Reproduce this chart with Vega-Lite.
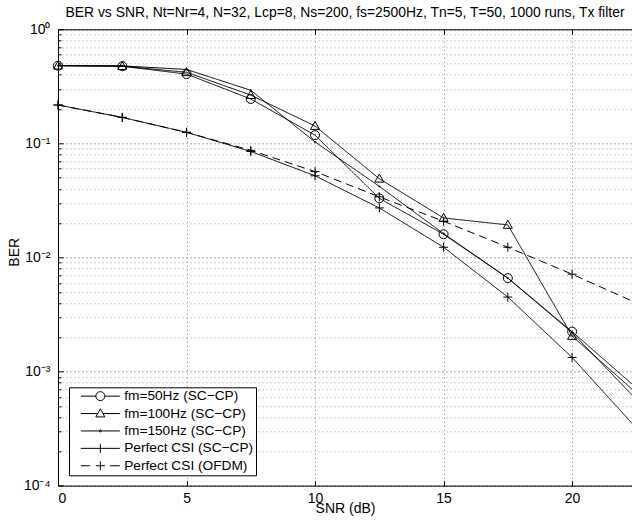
{
  "$schema": "https://vega.github.io/schema/vega-lite/v6.json",
  "width": 574,
  "height": 456.4,
  "autosize": {"type": "none"},
  "padding": {"left": 58, "top": 29.3, "right": 0, "bottom": 36.3},
  "background": "white",
  "title": {"text": "BER vs SNR, Nt=Nr=4, N=32, Lcp=8, Ns=200, fs=2500Hz, Tn=5, T=50, 1000 runs, Tx filter", "fontSize": 13.9, "fontWeight": "normal", "font": "Liberation Sans", "color": "black", "anchor": "middle", "frame": "group", "baseline": "alphabetic", "offset": -8.5},
  "config": {
    "view": {"stroke": null},
    "axis": {"labelFont": "Liberation Sans", "titleFont": "Liberation Sans", "labelColor": "black", "titleColor": "black", "domainColor": "black", "tickColor": "black", "labelFontSize": 14, "titleFontSize": 14, "titleFontWeight": "normal", "domainWidth": 1, "tickWidth": 1, "gridWidth": 1}
  },
  "data": {"values": [
    {"series": "fm=50Hz (SC−CP)", "snr": 0, "ber": 0.48},
    {"series": "fm=50Hz (SC−CP)", "snr": 2.5, "ber": 0.475},
    {"series": "fm=50Hz (SC−CP)", "snr": 5, "ber": 0.405},
    {"series": "fm=50Hz (SC−CP)", "snr": 7.5, "ber": 0.245},
    {"series": "fm=50Hz (SC−CP)", "snr": 10, "ber": 0.118},
    {"series": "fm=50Hz (SC−CP)", "snr": 12.5, "ber": 0.033},
    {"series": "fm=50Hz (SC−CP)", "snr": 15, "ber": 0.016},
    {"series": "fm=50Hz (SC−CP)", "snr": 17.5, "ber": 0.0066},
    {"series": "fm=50Hz (SC−CP)", "snr": 20, "ber": 0.00224},
    {"series": "fm=50Hz (SC−CP)", "snr": 22.5, "ber": 0.00072},
    {"series": "fm=100Hz (SC−CP)", "snr": 0, "ber": 0.48},
    {"series": "fm=100Hz (SC−CP)", "snr": 2.5, "ber": 0.475},
    {"series": "fm=100Hz (SC−CP)", "snr": 5, "ber": 0.42},
    {"series": "fm=100Hz (SC−CP)", "snr": 7.5, "ber": 0.265},
    {"series": "fm=100Hz (SC−CP)", "snr": 10, "ber": 0.142},
    {"series": "fm=100Hz (SC−CP)", "snr": 12.5, "ber": 0.049},
    {"series": "fm=100Hz (SC−CP)", "snr": 15, "ber": 0.0222},
    {"series": "fm=100Hz (SC−CP)", "snr": 17.5, "ber": 0.0193},
    {"series": "fm=100Hz (SC−CP)", "snr": 20, "ber": 0.00205},
    {"series": "fm=100Hz (SC−CP)", "snr": 22.5, "ber": 0.00065},
    {"series": "fm=150Hz (SC−CP)", "snr": 0, "ber": 0.48},
    {"series": "fm=150Hz (SC−CP)", "snr": 2.5, "ber": 0.478},
    {"series": "fm=150Hz (SC−CP)", "snr": 5, "ber": 0.445},
    {"series": "fm=150Hz (SC−CP)", "snr": 7.5, "ber": 0.292},
    {"series": "fm=150Hz (SC−CP)", "snr": 10, "ber": 0.103},
    {"series": "fm=150Hz (SC−CP)", "snr": 12.5, "ber": 0.042},
    {"series": "fm=150Hz (SC−CP)", "snr": 15, "ber": 0.0162},
    {"series": "fm=150Hz (SC−CP)", "snr": 17.5, "ber": 0.0066},
    {"series": "fm=150Hz (SC−CP)", "snr": 20, "ber": 0.0022},
    {"series": "fm=150Hz (SC−CP)", "snr": 22.5, "ber": 0.00057},
    {"series": "Perfect CSI (SC−CP)", "snr": 0, "ber": 0.217},
    {"series": "Perfect CSI (SC−CP)", "snr": 2.5, "ber": 0.169},
    {"series": "Perfect CSI (SC−CP)", "snr": 5, "ber": 0.125},
    {"series": "Perfect CSI (SC−CP)", "snr": 7.5, "ber": 0.085},
    {"series": "Perfect CSI (SC−CP)", "snr": 10, "ber": 0.052},
    {"series": "Perfect CSI (SC−CP)", "snr": 12.5, "ber": 0.0272},
    {"series": "Perfect CSI (SC−CP)", "snr": 15, "ber": 0.0123},
    {"series": "Perfect CSI (SC−CP)", "snr": 17.5, "ber": 0.0045},
    {"series": "Perfect CSI (SC−CP)", "snr": 20, "ber": 0.00133},
    {"series": "Perfect CSI (SC−CP)", "snr": 22.5, "ber": 0.00032},
    {"series": "Perfect CSI (OFDM)", "snr": 0, "ber": 0.217},
    {"series": "Perfect CSI (OFDM)", "snr": 2.5, "ber": 0.169},
    {"series": "Perfect CSI (OFDM)", "snr": 5, "ber": 0.125},
    {"series": "Perfect CSI (OFDM)", "snr": 7.5, "ber": 0.087},
    {"series": "Perfect CSI (OFDM)", "snr": 10, "ber": 0.0566},
    {"series": "Perfect CSI (OFDM)", "snr": 12.5, "ber": 0.034},
    {"series": "Perfect CSI (OFDM)", "snr": 15, "ber": 0.0208},
    {"series": "Perfect CSI (OFDM)", "snr": 17.5, "ber": 0.0123},
    {"series": "Perfect CSI (OFDM)", "snr": 20, "ber": 0.00714},
    {"series": "Perfect CSI (OFDM)", "snr": 22.5, "ber": 0.0040}
  ]},
  "layer": [
    {
      "mark": {"type": "point", "opacity": 0},
      "encoding": {
        "x": {"field": "snr", "type": "quantitative", "scale": {"domain": [0, 22.33], "nice": false, "zero": false},
              "axis": {"orient": "top", "values": [0, 5, 10, 15, 20], "labels": false, "grid": false, "ticks": true, "tickSize": -5, "domain": true, "title": null}},
        "y": {"field": "ber", "type": "quantitative", "scale": {"type": "log", "domain": [0.0001, 1], "nice": false},
              "axis": {"orient": "left", "values": [0.0002,0.0003,0.0004,0.0005,0.0006,0.0007,0.0008,0.0009,0.002,0.003,0.004,0.005,0.006,0.007,0.008,0.009,0.02,0.03,0.04,0.05,0.06,0.07,0.08,0.09,0.2,0.3,0.4,0.5,0.6,0.7,0.8,0.9],
                       "labels": false, "grid": true, "gridColor": "#9a9a9a", "gridDash": [1, 3], "ticks": true, "tickSize": -3, "domain": false, "title": null}}
      }
    },
    {
      "mark": {"type": "line", "clip": true, "color": "black", "strokeWidth": 1},
      "encoding": {
        "x": {"field": "snr", "type": "quantitative", "scale": {"domain": [0, 22.33], "nice": false, "zero": false},
              "axis": {"orient": "bottom", "values": [0, 5, 10, 15, 20], "grid": true, "gridColor": "#8a8a8a", "gridDash": [1, 3], "tickSize": -5, "labelPadding": 11, "title": "SNR (dB)", "titleY": 26.3, "titleBaseline": "alphabetic"}},
        "y": {"field": "ber", "type": "quantitative", "scale": {"type": "log", "domain": [0.0001, 1], "nice": false},
              "axis": {"orient": "left", "values": [0.0001, 0.001, 0.01, 0.1, 1], "grid": true, "gridColor": "#555555", "gridDash": [1, 3], "tickSize": -5, "labelPadding": 13,
                       "labelExpr": "'10' + ['⁰','⁻¹','⁻²','⁻³','⁻⁴'][-round(log(datum.value)/LN10)]",
                       "title": "BER", "titleX": -40, "titleY": 222.5, "titleBaseline": "alphabetic", "titleAlign": "center", "titleAngle": -90}},
        "detail": {"field": "series", "type": "nominal"},
        "strokeDash": {"condition": {"test": "datum.series === 'Perfect CSI (OFDM)'", "value": [8, 5]}, "value": [1, 0]}
      }
    },
    {
      "transform": [{"filter": "datum.snr <= 20"}],
      "mark": {"type": "point", "filled": false, "stroke": "black", "strokeWidth": 1, "size": 81, "opacity": 1},
      "encoding": {
        "x": {"field": "snr", "type": "quantitative", "axis": null},
        "y": {"field": "ber", "type": "quantitative", "axis": null},
        "shape": {"field": "series", "type": "nominal",
                  "scale": {"domain": ["fm=50Hz (SC−CP)", "fm=100Hz (SC−CP)", "fm=150Hz (SC−CP)", "Perfect CSI (SC−CP)", "Perfect CSI (OFDM)"],
                            "range": ["M-1,0A1,1 0 1,0 1,0A1,1 0 1,0 -1,0Z", "M0,-1.05L1,0.75L-1,0.75Z", "M-0.15,0A0.15,0.15 0 1,0 0.15,0A0.15,0.15 0 1,0 -0.15,0Z", "M-1,0H1M0,-1V1", "M-1,0H1M0,-1V1"]},
                  "legend": null}
      }
    },
    {
      "transform": [{"filter": "false"}],
      "mark": {"type": "point", "filled": false, "stroke": "black", "strokeWidth": 1},
      "encoding": {
        "x": {"field": "snr", "type": "quantitative", "axis": null},
        "y": {"field": "ber", "type": "quantitative", "axis": null},
        "shape": {"field": "series", "type": "nominal",
                  "scale": {"domain": ["fm=50Hz (SC−CP)", "fm=100Hz (SC−CP)", "fm=150Hz (SC−CP)", "Perfect CSI (SC−CP)", "Perfect CSI (OFDM)"],
                            "range": ["M-4.875,0H-1.125M1.125,0H4.875M-1.125,0A1.125,1.125 0 1,0 1.125,0A1.125,1.125 0 1,0 -1.125,0Z", "M-4.875,0H-0.66M0.66,0H4.875M0,-1.18L1.125,0.84L-1.125,0.84Z", "M-4.875,0H4.875M-0.25,0A0.25,0.25 0 1,0 0.25,0A0.25,0.25 0 1,0 -0.25,0Z", "M-4.875,0H4.875M0,-1.125V1.125", "M-4.875,0H-2.625M2.375,0H4.875M-1.125,0H1.125M0,-1.125V1.125"]},
                  "legend": {"title": null, "orient": "bottom-left", "offset": 10.5, "strokeColor": "black", "fillColor": "white", "padding": 2,
                             "symbolSize": 64, "symbolOffset": 22.5, "labelOffset": 17, "labelFontSize": 13.7, "labelFont": "Liberation Sans", "labelColor": "black",
                             "symbolStrokeColor": "black", "symbolStrokeWidth": 1, "symbolFillColor": "transparent", "symbolOpacity": 1, "rowPadding": 2.4, "labelLimit": 300}}
      }
    }
  ],
  "resolve": {"axis": {"x": "independent", "y": "independent"}, "scale": {"shape": "independent"}}
}
